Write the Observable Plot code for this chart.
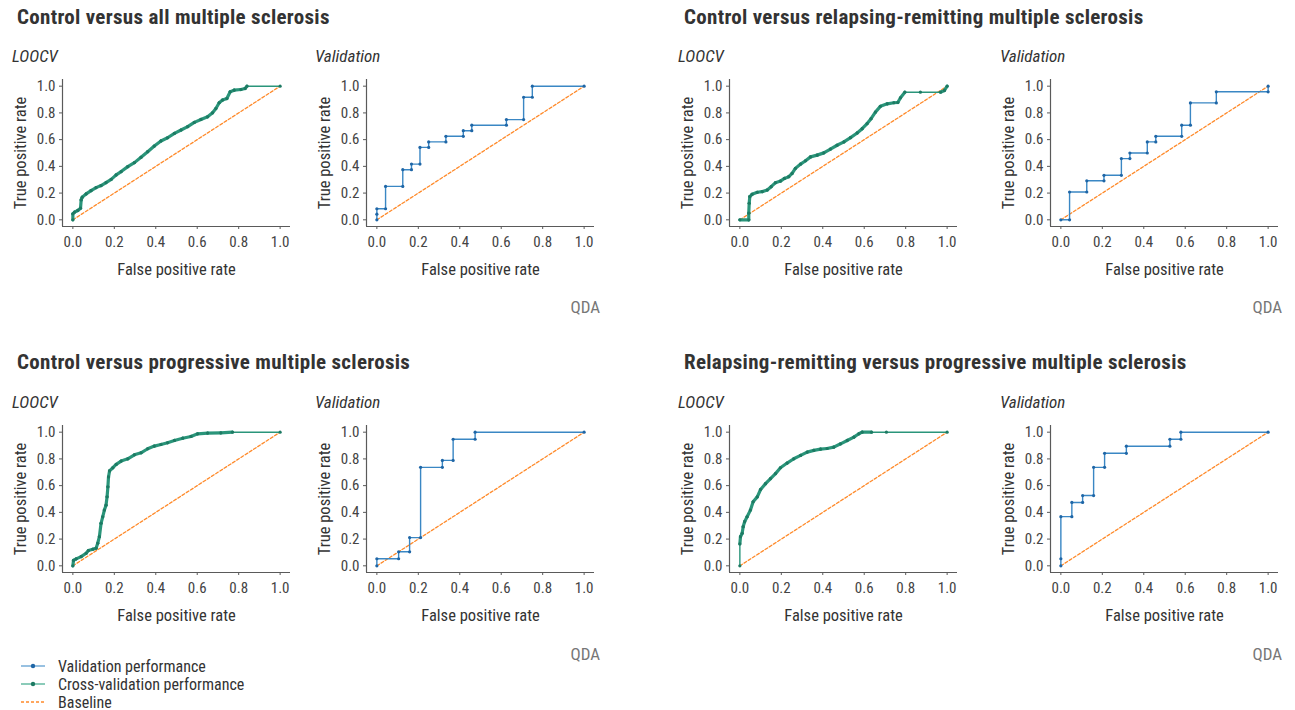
<!DOCTYPE html>
<html><head><meta charset="utf-8">
<script src="https://cdn.jsdelivr.net/npm/d3@7"></script>
<script src="https://cdn.jsdelivr.net/npm/@observablehq/plot@0.6"></script>
<style>
body{margin:0;background:#fff;}
#root{position:relative;width:1295px;height:710px;overflow:hidden;background:#fff;
  font-family:"Liberation Sans Narrow","Roboto Condensed","DejaVu Sans Condensed",Roboto,sans-serif;color:#333;}
.title{position:absolute;font-weight:bold;font-size:21px;line-height:21px;letter-spacing:0.3px;color:#333;white-space:nowrap;}
.sub{position:absolute;font-style:italic;font-size:17px;line-height:17px;color:#333;white-space:nowrap;}
.qda{position:absolute;font-size:17px;line-height:17px;color:#777;white-space:nowrap;text-align:right;}
.panel{position:absolute;}
.legend{position:absolute;left:20px;top:657px;font-size:16px;color:#333;}
.legend .row{display:flex;align-items:center;height:18px;}
.legend svg{margin-right:12px;}
</style></head>
<body><div id="root"></div>
<script>
// ---------- data ----------
const titles = [
  "Control versus all multiple sclerosis",
  "Control versus relapsing-remitting multiple sclerosis",
  "Control versus progressive multiple sclerosis",
  "Relapsing-remitting versus progressive multiple sclerosis"
];
const panelNames = ["LOOCV", "Validation"];
const methodLabel = "QDA";
const xTitle = "False positive rate";
const yTitle = "True positive rate";
const legendLabels = ["Validation performance", "Cross-validation performance", "Baseline"];
const ticks = [0, 0.2, 0.4, 0.6, 0.8, 1.0];
const baselineFpr = [0, 1];
const baselineTpr = [0, 1];

// Control vs all MS
const cvAllFpr = [0,0,0.008,0.024,0.037,0.04,0.045,0.064,0.088,0.112,0.136,0.16,0.185,0.209,0.233,0.265,0.297,0.329,0.361,0.393,0.425,0.457,0.49,0.522,0.554,0.586,0.618,0.65,0.674,0.69,0.706,0.722,0.743,0.759,0.778,0.811,0.831,0.84,1];
const cvAllTpr = [0,0.045,0.057,0.07,0.087,0.149,0.169,0.194,0.219,0.241,0.256,0.279,0.303,0.336,0.361,0.398,0.428,0.468,0.51,0.552,0.59,0.614,0.647,0.672,0.697,0.729,0.751,0.771,0.801,0.833,0.876,0.896,0.908,0.958,0.97,0.975,0.983,1,1];
const valAllFpr = [0,0,0,0.042,0.042,0.125,0.125,0.167,0.167,0.208,0.208,0.25,0.25,0.333,0.333,0.417,0.417,0.458,0.458,0.625,0.625,0.708,0.708,0.75,0.75,1];
const valAllTpr = [0,0.042,0.083,0.083,0.25,0.25,0.375,0.375,0.417,0.417,0.542,0.542,0.583,0.583,0.625,0.625,0.667,0.667,0.708,0.708,0.75,0.75,0.917,0.917,1,1];

// Control vs relapsing-remitting MS
const cvRrFpr = [0,0.043,0.043,0.045,0.048,0.059,0.084,0.108,0.132,0.151,0.172,0.196,0.215,0.236,0.252,0.268,0.293,0.317,0.341,0.373,0.405,0.437,0.469,0.502,0.534,0.566,0.59,0.614,0.633,0.654,0.678,0.711,0.743,0.762,0.775,0.796,0.871,0.968,0.987,1];
const cvRrTpr = [0,0,0.05,0.124,0.174,0.191,0.206,0.211,0.223,0.248,0.278,0.29,0.31,0.323,0.347,0.385,0.417,0.442,0.471,0.484,0.501,0.529,0.558,0.583,0.615,0.65,0.682,0.72,0.757,0.806,0.849,0.868,0.876,0.878,0.913,0.955,0.955,0.955,0.968,1];
const valRrFpr = [0,0.042,0.042,0.125,0.125,0.208,0.208,0.292,0.292,0.333,0.333,0.417,0.417,0.458,0.458,0.583,0.583,0.625,0.625,0.75,0.75,1,1];
const valRrTpr = [0,0,0.208,0.208,0.292,0.292,0.333,0.333,0.458,0.458,0.5,0.5,0.583,0.583,0.625,0.625,0.708,0.708,0.875,0.875,0.958,0.958,1];

// Control vs progressive MS
const cvProgFpr = [0,0.003,0.016,0.04,0.064,0.075,0.096,0.112,0.12,0.128,0.136,0.144,0.152,0.16,0.165,0.169,0.172,0.177,0.193,0.209,0.233,0.265,0.297,0.329,0.361,0.393,0.425,0.457,0.49,0.53,0.57,0.602,0.65,0.714,0.77,1];
const cvProgTpr = [0,0.04,0.052,0.069,0.094,0.114,0.124,0.132,0.169,0.218,0.318,0.367,0.417,0.454,0.516,0.591,0.665,0.71,0.734,0.759,0.784,0.801,0.831,0.846,0.876,0.896,0.908,0.921,0.938,0.955,0.968,0.988,0.993,0.995,1,1];
const valProgFpr = [0,0,0.105,0.105,0.158,0.158,0.211,0.211,0.316,0.316,0.368,0.368,0.474,0.474,1];
const valProgTpr = [0,0.053,0.053,0.105,0.105,0.211,0.211,0.737,0.737,0.789,0.789,0.947,0.947,1,1];

// Relapsing-remitting vs progressive MS
const cvRpFpr = [0,0,0.003,0.011,0.016,0.023,0.035,0.051,0.064,0.084,0.1,0.124,0.148,0.172,0.196,0.228,0.26,0.293,0.325,0.357,0.389,0.421,0.453,0.486,0.518,0.55,0.574,0.59,0.635,0.707,1];
const cvRpTpr = [0,0.164,0.218,0.243,0.293,0.33,0.367,0.417,0.479,0.516,0.571,0.615,0.653,0.69,0.734,0.769,0.801,0.826,0.851,0.864,0.873,0.878,0.888,0.913,0.938,0.963,0.988,1,1,1,1];
const valRpFpr = [0,0,0,0.053,0.053,0.105,0.105,0.158,0.158,0.211,0.211,0.316,0.316,0.526,0.526,0.579,0.579,1];
const valRpTpr = [0,0.053,0.368,0.368,0.474,0.474,0.526,0.526,0.737,0.737,0.842,0.842,0.895,0.895,0.947,0.947,1,1];

// ---------- styling ----------
const FONT = '"Liberation Sans Narrow","Roboto Condensed","DejaVu Sans Condensed",Roboto,sans-serif';
const BLUE = "#3a87c4", BLUE_DOT = "#1f66a6";
const GREEN = "#2a957a", GREEN_DOT = "#1d7a63";
const ORANGE = "#ff8a2a";
const AXIS = "#5a5a5a";
const DOMAIN = [-0.05, 1.05];
const W = 300, H = 250, ML = 62, MR = 10, MT = 20, MB = 83;
const fmt = d3.format(".1f");

function rocPlot(fpr, tpr, kind) {
  const pts = fpr.map((x, i) => ({x, y: tpr[i]}));
  const base = baselineFpr.map((x, i) => ({x, y: baselineTpr[i]}));
  const color = kind === "cv" ? GREEN : BLUE;
  const dot = kind === "cv" ? GREEN_DOT : BLUE_DOT;
  const kx = (W - ML - MR) / (DOMAIN[1] - DOMAIN[0]);
  const ky = (H - MT - MB) / (DOMAIN[1] - DOMAIN[0]);
  const segs = pts.slice(1).map((p, i) => ({x1: pts[i].x, y1: pts[i].y, x2: p.x, y2: p.y}));
  const dense = segs.filter(s => Math.hypot((s.x2 - s.x1) * kx, (s.y2 - s.y1) * ky) <= 14);
  const marks = [
    Plot.ruleX([DOMAIN[0]], {stroke: AXIS, strokeWidth: 1.2}),
    Plot.ruleY([DOMAIN[0]], {stroke: AXIS, strokeWidth: 1.2}),
    Plot.axisX({ticks, tickFormat: fmt, tickSize: 3, tickPadding: 7, label: null, stroke: AXIS, fill: "#444"}),
    Plot.axisY({ticks, tickFormat: fmt, tickSize: 3, tickPadding: 4, label: null, stroke: AXIS, fill: "#444"}),
    Plot.text([xTitle], {text: d => d, frameAnchor: "bottom", dy: 43, lineAnchor: "middle", textAnchor: "middle", fontSize: 16.5, fill: "#333"}),
    Plot.text([yTitle], {text: d => d, frameAnchor: "left", dx: -42, rotate: -90, lineAnchor: "middle", textAnchor: "middle", fontSize: 16.5, fill: "#333"}),
    Plot.line(base, {x: "x", y: "y", stroke: ORANGE, strokeWidth: 1.3, strokeDasharray: "3,2"}),
    Plot.line(pts, {x: "x", y: "y", stroke: color, strokeWidth: 1.4})
  ];
  if (kind === "cv") {
    marks.push(Plot.link(dense, {x1: "x1", y1: "y1", x2: "x2", y2: "y2", stroke: color, strokeWidth: 3.2, strokeLinecap: "round"}));
  }
  marks.push(Plot.dot(pts, {x: "x", y: "y", r: 1.6, fill: dot}));
  return Plot.plot({
    width: W, height: H, marginLeft: ML, marginRight: MR, marginTop: MT, marginBottom: MB,
    x: {domain: DOMAIN}, y: {domain: DOMAIN},
    style: {fontFamily: FONT, fontSize: "15px", background: "transparent", overflow: "visible", color: "#444"},
    marks
  });
}

// ---------- layout ----------
const root = document.getElementById("root");
function addDiv(cls, text, left, top) {
  const d = document.createElement("div");
  d.className = cls; d.textContent = text;
  d.style.left = left + "px"; d.style.top = top + "px";
  root.appendChild(d); return d;
}
const groups = [
  {title: titles[0], tx: 17, ty: 7, cv: [cvAllFpr, cvAllTpr], val: [valAllFpr, valAllTpr], p1: 0, p2: 303.6, top: 59.3, s1: 12, s2: 315, sy: 48, qRight: 600, qy: 299},
  {title: titles[1], tx: 684, ty: 7, cv: [cvRrFpr, cvRrTpr], val: [valRrFpr, valRrTpr], p1: 667, p2: 987.7, top: 59.3, s1: 678, s2: 1000, sy: 48, qRight: 1282, qy: 299},
  {title: titles[2], tx: 17, ty: 352, cv: [cvProgFpr, cvProgTpr], val: [valProgFpr, valProgTpr], p1: 0, p2: 303.6, top: 405, s1: 12, s2: 315, sy: 394, qRight: 600, qy: 646},
  {title: titles[3], tx: 684, ty: 352, cv: [cvRpFpr, cvRpTpr], val: [valRpFpr, valRpTpr], p1: 667, p2: 987.7, top: 405, s1: 678, s2: 1000, sy: 394, qRight: 1282, qy: 646}
];
for (const g of groups) {
  addDiv("title", g.title, g.tx, g.ty);
  addDiv("sub", panelNames[0], g.s1, g.sy);
  addDiv("sub", panelNames[1], g.s2, g.sy);
  const a = rocPlot(g.cv[0], g.cv[1], "cv");
  a.classList.add("panel"); a.style.left = g.p1 + "px"; a.style.top = g.top + "px"; a.style.position = "absolute";
  root.appendChild(a);
  const b = rocPlot(g.val[0], g.val[1], "val");
  b.classList.add("panel"); b.style.left = g.p2 + "px"; b.style.top = g.top + "px"; b.style.position = "absolute";
  root.appendChild(b);
  const q = addDiv("qda", methodLabel, 0, g.qy);
  q.style.left = "auto"; q.style.right = (1295 - g.qRight) + "px";
}

// legend
const leg = document.createElement("div");
leg.className = "legend";
const swatches = [
  {stroke: "#7fb2da", dot: "#1f66a6", dash: null},
  {stroke: "#6fbfa8", dot: "#1d7a63", dash: null},
  {stroke: ORANGE, dot: null, dash: "3,2"}
];
legendLabels.forEach((lab, i) => {
  const s = swatches[i];
  const row = document.createElement("div"); row.className = "row";
  row.innerHTML = `<svg width="26" height="10"><line x1="1" x2="25" y1="5" y2="5" stroke="${s.stroke}" stroke-width="1.6" ${s.dash ? `stroke-dasharray="${s.dash}"` : ""}/>${s.dot ? `<circle cx="13" cy="5" r="2.2" fill="${s.dot}"/>` : ""}</svg><span>${lab}</span>`;
  leg.appendChild(row);
});
root.appendChild(leg);
</script>
</body></html>
